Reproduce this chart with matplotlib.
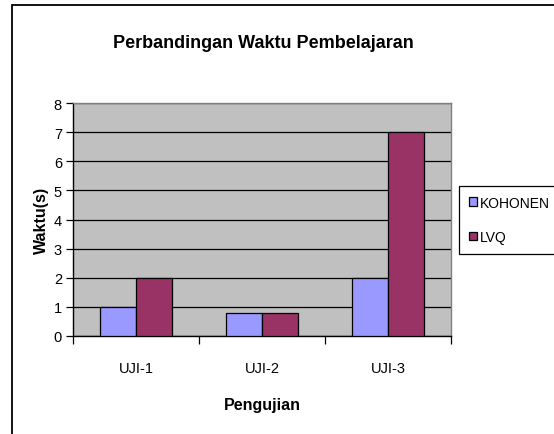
import numpy as np
import matplotlib
matplotlib.use("Agg")
import matplotlib.pyplot as plt
from matplotlib.patches import Rectangle

# data
categories = ["UJI-1", "UJI-2", "UJI-3"]
kohonen = [1.0, 0.8, 2.0]
lvq = [2.0, 0.8, 7.0]
series_names = ["KOHONEN", "LVQ"]
yticks = [0, 1, 2, 3, 4, 5, 6, 7, 8]

plt.rcParams['font.family'] = ['Liberation Sans', 'DejaVu Sans']

W, H = 554, 435
fig = plt.figure(figsize=(W / 100, H / 100), dpi=100)
fig.patch.set_facecolor("white")

# outer chart frame (right/bottom edges run off the picture)
fig.patches.append(Rectangle((12 / W, -0.1), 1.2, 1 - 6 / H + 0.1, transform=fig.transFigure,
                             fill=False, edgecolor="black", linewidth=1.3))

ax = fig.add_axes([73 / W, 1 - 337 / H, 378 / W, 233 / H])
ax.set_facecolor("#C0C0C0")

x = np.arange(len(categories))
w = 1 / 3.5
b1 = ax.bar(x - w / 2, kohonen, w, color="#9999FF", edgecolor="black", linewidth=0.9,
            label=series_names[0], zorder=3)
b2 = ax.bar(x + w / 2, lvq, w, color="#993366", edgecolor="black", linewidth=0.9,
            label=series_names[1], zorder=3)

ax.set_xlim(-0.5, len(categories) - 0.5)
ax.set_ylim(0, 8)
ax.set_yticks(yticks)
ax.yaxis.grid(True, color="black", linewidth=0.9, zorder=1)
ax.set_axisbelow(True)

ax.set_xticks(x)
ax.set_xticklabels(categories, fontsize=10.5)
ax.set_xticks(np.arange(-0.5, len(categories)), minor=True)
ax.tick_params(axis="x", which="major", length=0, pad=18)
ax.tick_params(axis="x", which="minor", length=6, width=0.9, direction="out")
ax.tick_params(axis="y", length=5, width=0.9, direction="out", labelsize=10.5, pad=3)

for s in ["top", "right"]:
    ax.spines[s].set_color("#808080")
    ax.spines[s].set_linewidth(1)
ax.spines["left"].set_linewidth(1)
ax.spines["bottom"].set_linewidth(1)

ax.set_ylabel("Waktu(s)", fontsize=11.5, fontweight="bold", labelpad=3)
ax.set_xlabel("Pengujian", fontsize=11.5, fontweight="bold", labelpad=16)
fig.text(263 / W, 1 - 43 / H, "Perbandingan Waktu Pembelajaran", ha="center", va="center",
         fontsize=13, fontweight="bold")

leg = ax.legend(handles=[b1, b2], loc="upper left", bbox_to_anchor=(459 / W, 1 - 187 / H),
                bbox_transform=fig.transFigure, fontsize=10, fancybox=False, framealpha=1,
                edgecolor="black", handlelength=0.6, handleheight=0.6, handletextpad=0.2,
                labelspacing=1.45, borderpad=0.7, borderaxespad=0)
leg.get_frame().set_linewidth(0.9)
leg.set_zorder(10)

fig.savefig("out.png", dpi=100)
